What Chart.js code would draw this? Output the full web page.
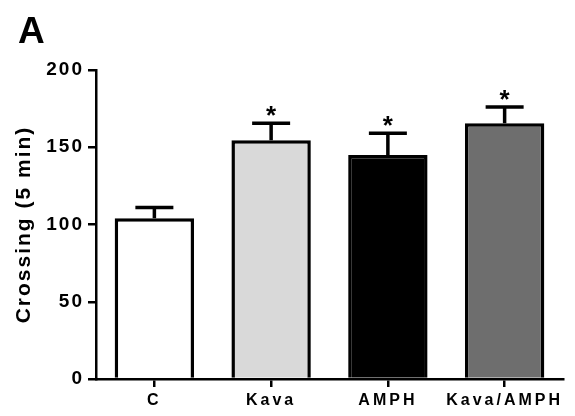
<!DOCTYPE html>
<html><head><meta charset="utf-8">
<script src="https://cdn.jsdelivr.net/npm/chart.js@4"></script>
<style>html,body{margin:0;padding:0;background:#fff}#wrap{width:575px;height:416px}</style>
</head><body><div id="wrap"><canvas id="c" width="575" height="416"></canvas></div>
<script>
const categories = ["C", "Kava", "AMPH", "Kava/AMPH"];
const means = [104, 154.5, 145, 165.5];
const sems = [7, 11, 14, 10.5];
const significant = [false, true, true, true];
const barColors = ["#ffffff", "#d9d9d9", "#000000", "#6e6e6e"];
const yTicks = [0, 50, 100, 150, 200];
const yTitle = "Crossing (5 min)";
const panelLabel = "A";

const FONT = "'Liberation Sans', Arial, sans-serif";

function spaced(scale, fnName, spacing) {
  const key = '_sp_' + fnName;
  if (scale[key]) return;
  const orig = scale[fnName].bind(scale);
  scale[fnName] = function (...args) {
    const ctx = scale.ctx;
    const prev = ctx.letterSpacing;
    ctx.letterSpacing = spacing;
    orig(...args);
    ctx.letterSpacing = prev;
  };
  scale[key] = true;
}

const errPlugin = {
  id: 'err',
  afterLayout(chart) {
    spaced(chart.scales.x, 'drawLabels', '3px');
    spaced(chart.scales.y, 'drawLabels', '2px');
    spaced(chart.scales.y, 'drawTitle', '2px');
  },
  afterDatasetsDraw(chart) {
    const ctx = chart.ctx, y = chart.scales.y;
    const meta = chart.getDatasetMeta(0);
    ctx.save();
    ctx.letterSpacing = '0px';
    ctx.strokeStyle = '#000'; ctx.lineWidth = 3.5; ctx.lineCap = 'butt';
    meta.data.forEach((bar, i) => {
      const top = y.getPixelForValue(means[i]);
      const cap = y.getPixelForValue(means[i] + sems[i]);
      ctx.beginPath();
      ctx.moveTo(bar.x, top); ctx.lineTo(bar.x, cap);
      ctx.moveTo(bar.x - 19, cap); ctx.lineTo(bar.x + 19, cap);
      ctx.stroke();
      if (significant[i]) {
        ctx.fillStyle = '#000';
        ctx.font = 'bold 26px ' + FONT;
        ctx.textAlign = 'center'; ctx.textBaseline = 'alphabetic';
        ctx.fillText('*', bar.x, cap + 1);
      }
    });
    ctx.fillStyle = '#000';
    ctx.font = 'bold 37px ' + FONT;
    ctx.textAlign = 'left'; ctx.textBaseline = 'alphabetic';
    ctx.fillText(panelLabel, 18, 43);
    ctx.restore();
  }
};

new Chart(document.getElementById('c'), {
  type: 'bar',
  data: {
    labels: categories,
    datasets: [{
      data: means,
      backgroundColor: barColors,
      borderColor: '#000',
      borderWidth: 3.5,
      borderSkipped: 'bottom',
      barPercentage: 1,
      categoryPercentage: 0.68
    }]
  },
  options: {
    responsive: false,
    animation: false,
    devicePixelRatio: 1,
    layout: { padding: { left: 0, right: 12, top: 70, bottom: 0 } },
    plugins: { legend: { display: false }, tooltip: { enabled: false } },
    scales: {
      x: {
        offset: true,
        afterFit(s) { s.height = 37; },
        grid: { display: true, drawOnChartArea: false, offset: false, color: '#000', lineWidth: 2.5, tickLength: 8, tickWidth: 2.5 },
        border: { display: true, color: '#000', width: 2.5 },
        ticks: { color: '#000', font: { family: FONT, size: 16, weight: 'bold' }, padding: 4, maxRotation: 0 }
      },
      y: {
        min: 0, max: 200,
        afterFit(s) { s.width = 96; },
        afterBuildTicks(s) { s.ticks = yTicks.map(v => ({ value: v })); },
        grid: { display: true, drawOnChartArea: false, color: '#000', lineWidth: 2.5, tickLength: 8, tickWidth: 2.5 },
        border: { display: true, color: '#000', width: 2.5 },
        ticks: { color: '#000', font: { family: FONT, size: 19, weight: 'bold' }, padding: 4 },
        title: { display: true, text: yTitle, color: '#000', font: { family: FONT, size: 21, weight: 'bold' }, padding: { top: 12, bottom: 0 } }
      }
    }
  },
  plugins: [errPlugin]
});
</script></body></html>
